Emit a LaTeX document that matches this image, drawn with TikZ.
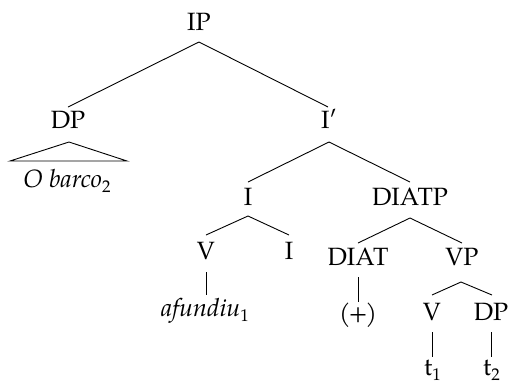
\documentclass[tikz,border=0pt]{standalone}
\usepackage{fontspec}
\setmainfont{TeX Gyre Pagella}
\usetikzlibrary{calc}
\newcommand{\subn}[1]{\raisebox{-0.2em}{\fontsize{17}{20}\selectfont #1}}
\tikzset{
  lab/.style={anchor=base, inner sep=0pt, font=\fontsize{25}{29}\selectfont},
  branch/.style={line width=0.9pt, black},
}
\begin{document}
\begin{tikzpicture}[x=1pt,y=-1pt]
\useasboundingbox (0,0) rectangle (509,384);
% nodes
\node[lab] (ip) at (199,30) {IP};
\node[lab] (dp) at (68,128) {DP};
\node[lab] (ibar) at (329,128) {I′};
\node[lab] (obarco) at (67,187) {\textit{O barco}\subn{2}};
\node[lab] (i) at (248,205) {I};
\node[lab] (diatp) at (410,205) {DIATP};
\node[lab] (v) at (206,259) {V};
\node[lab] (i2) at (289,259) {I};
\node[lab] (diat) at (358,265) {DIAT};
\node[lab] (vp) at (462,265) {VP};
\node[lab] (afundiu) at (205,316) {\textit{afundiu}\subn{1}};
\node[lab] (plus) at (358,321) {(\kern-0.08em+\kern-0.08em)};
\node[lab] (v2) at (432,320) {V};
\node[lab] (dp2) at (491,320) {DP};
\node[lab] (t1) at (432.5,375) {t\subn{1}};
\node[lab] (t2) at (491.5,375) {t\subn{2}};
% branches
\draw[branch] ($(ip.base)+(0,12)$) -- ($(dp.base)+(0,-21)$);
\draw[branch] ($(ip.base)+(0,12)$) -- ($(ibar.base)+(-1,-21)$);
\draw[branch] ($(dp.base)+(1,14)$) -- ($(dp.base)+(-58,33)$) -- ($(dp.base)+(59,33)$) -- cycle;
\draw[branch] ($(ibar.base)+(0,14)$) -- ($(i.base)+(0,-23)$);
\draw[branch] ($(ibar.base)+(0,14)$) -- ($(diatp.base)+(0,-23)$);
\draw[branch] ($(i.base)+(0,11)$) -- ($(v.base)+(0,-24)$);
\draw[branch] ($(i.base)+(0,11)$) -- ($(i2.base)+(0,-24)$);
\draw[branch] ($(diatp.base)+(0,13)$) -- ($(diat.base)+(0,-22)$);
\draw[branch] ($(diatp.base)+(0,13)$) -- ($(vp.base)+(0,-22)$);
\draw[branch] ($(v.base)+(0,13)$) -- ($(v.base)+(0,36)$) coordinate (afu);
\draw[branch] ($(diat.base)+(0,12)$) -- ($(plus.base)+(0,-19)$);
\draw[branch] ($(vp.base)+(-1,17)$) -- ($(v2.base)+(0,-25)$);
\draw[branch] ($(vp.base)+(-1,17)$) -- ($(dp2.base)+(1,-25)$);
\draw[branch] ($(v2.base)+(0,12)$) -- ($(t1.base)+(-0.5,-18)$);
\draw[branch] ($(dp2.base)+(0,12)$) -- ($(t2.base)+(-0.5,-18)$);
\end{tikzpicture}
\end{document}
